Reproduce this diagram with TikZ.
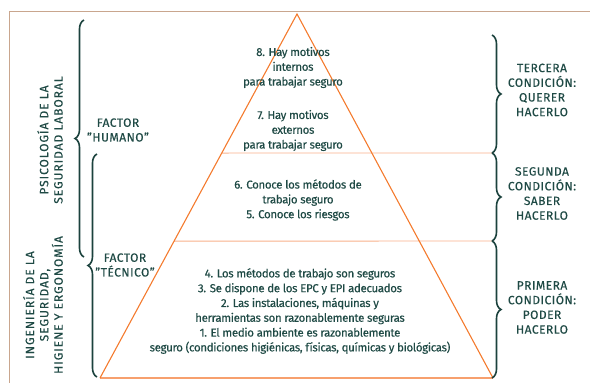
\documentclass[tikz,border=0pt]{standalone}
\usepackage{fontspec}
\setmainfont{Fira Sans}
\usetikzlibrary{calc,decorations.pathreplacing}
\definecolor{txtteal}{HTML}{1F4A45}
\definecolor{brcteal}{HTML}{1B423D}
\definecolor{triorange}{HTML}{F47B2E}
\definecolor{peach}{HTML}{F8B08A}
\definecolor{framecol}{HTML}{C9A68E}

\tikzset{
	txt/.style={draw=none, text=txtteal, align=center, font=\fontsize{11.5}{14.8}\selectfont\addfontfeature{LetterSpace=-3, FakeBold=0.3}},
	captxt/.style={txt, font=\fontsize{12}{14.7}\selectfont\addfontfeature{LetterSpace=4, FakeBold=0.3}},
	sidetxt/.style={txt, rotate=90, font=\fontsize{12}{14.3}\selectfont\addfontfeature{LetterSpace=8, FakeBold=0.3}},
	brc/.style={draw=brcteal, line width=1.6pt, decorate, decoration={brace, amplitude=9pt}},
	tri/.style={draw=triorange, line width=1.1pt},
	base/.style={draw=peach!70!triorange, line width=2pt},
	thin/.style={draw=peach, line width=0.9pt}
}

\begin{document}
\begin{tikzpicture}[x=1pt, y=-1pt]
\useasboundingbox (0,0) rectangle (590,383);
\draw[framecol, line width=1pt] (9.5,383) -- (9.5,11) -- (590,11);

\coordinate (apex) at (297,14);
\coordinate (bl) at (100,378);
\coordinate (br) at (493,378);
\coordinate (m1) at ($(apex)!0.382!(bl)$);
\coordinate (m2) at ($(apex)!0.624!(bl)$);
\coordinate (e1) at (492,153);
\coordinate (e2) at (492,241);

\draw[thin] (m1) -- (e1);
\draw[thin] (m2) -- (e2);
\draw[base] (bl) -- (br);
\draw[tri] (bl) -- (apex) -- (br);

\draw[brc] (492,35) -- (e1);
\draw[brc] (e1) -- (e2);
\draw[brc] (e2) -- (492,378);
\draw[brc] (84,257) -- (84,20);
\draw[brc] (97,377) -- (97,154);

\path (293,67.5) node[txt] (mot8) {8. Hay motivos\\internos\\para trabajar seguro};
\path (293,130.5) node[txt] (mot7) {7. Hay motivos\\externos\\para trabajar seguro};
\path (298,200) node[txt] (con65) {6. Conoce los métodos de\\trabajo seguro\\5. Conoce los riesgos};
\path (300,311) node[txt] (seg14) {4. Los métodos de trabajo son seguros\\3. Se dispone de los EPC y EPI adecuados\\2. Las instalaciones, máquinas y\\herramientas son razonablemente seguras\\1. El medio ambiente es razonablemente\\seguro (condiciones higiénicas, físicas, químicas y biológicas)};

\path (542,90) node[captxt] (cond3) {TERCERA\\CONDICIÓN:\\QUERER\\HACERLO};
\path (542,193.5) node[captxt] (cond2) {SEGUNDA\\CONDICIÓN:\\SABER\\HACERLO};
\path (542,307.5) node[captxt] (cond1) {PRIMERA\\CONDICIÓN:\\PODER\\HACERLO};

\path (118,130) node[captxt] (humano) {FACTOR\\"HUMANO"};
\path (125,265) node[captxt] (tecnico) {FACTOR\\"TÉCNICO"};

\path (50,140) node[sidetxt] (psico) {PSICOLOGÍA DE LA\\SEGURIDAD LABORAL};
\path (43,305) node[sidetxt] (ingen) {INGENIERÍA DE LA\\SEGURIDAD,\\HIGIENE Y ERGONOMÍA};

\end{tikzpicture}
\end{document}
